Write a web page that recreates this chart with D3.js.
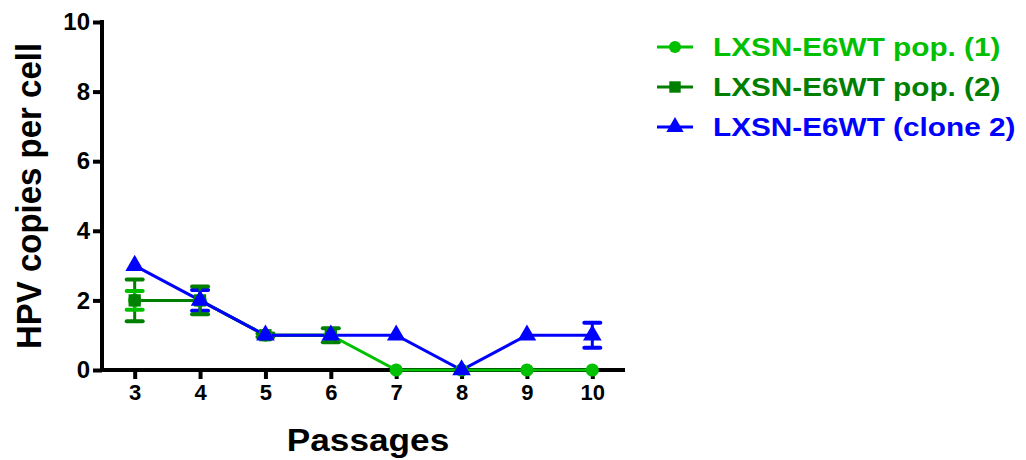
<!DOCTYPE html>
<html>
<head>
<meta charset="utf-8">
<script src="https://cdn.jsdelivr.net/npm/d3@7/dist/d3.min.js"></script>
<style>
  body { margin: 0; background: #fff; }
  text { font-family: "Liberation Sans", Arial, sans-serif; font-weight: bold; }
</style>
</head>
<body>
<script>
// passages on the x axis
var passages = [3, 4, 5, 6, 7, 8, 9, 10];

// mean HPV copies per cell
var pop1 = [2, 2, 1, 1, 0, 0, 0, 0];
var pop1Err = [0.27, 0, 0, 0, 0, 0, 0, 0];
var pop2 = [2, 2, 1, 1, null, null, null, null];
var pop2Err = [0.6, 0.4, 0.05, 0.2, 0, 0, 0, 0];
var clone2 = [3, 2, 1, 1, 1, 0, 1, 1];
var clone2Err = [0, 0.3, 0, 0, 0, 0, 0, 0.36];

var yTicks = [0, 2, 4, 6, 8, 10];
var seriesNames = ["LXSN-E6WT pop. (1)", "LXSN-E6WT pop. (2)", "LXSN-E6WT (clone 2)"];
var seriesColors = ["#00c000", "#007f00", "#0000ff"];
var seriesShapes = [d3.symbolCircle, d3.symbolSquare, d3.symbolTriangle];

var width = 1026, height = 460;

var svg = d3.select("body").append("svg")
    .attr("width", width)
    .attr("height", height);

var x = d3.scaleLinear().domain([2.5, 10.5]).range([102, 625]);
var y = d3.scaleLinear().domain([0, 10]).range([370, 22]);

var series = [
    {vals: pop1, err: pop1Err},
    {vals: pop2, err: pop2Err},
    {vals: clone2, err: clone2Err}
].map(function (s, i) {
    return {
        name: seriesNames[i],
        color: seriesColors[i],
        shape: seriesShapes[i],
        points: passages.map(function (p, j) {
            return {x: p, y: s.vals[j], e: s.err[j]};
        }).filter(function (d) { return d.y !== null; })
    };
});

function symSize(shape) {
    if (shape === d3.symbolTriangle) return 150;
    if (shape === d3.symbolSquare) return 150;
    return 135;
}

// axes
var yAxis = svg.append("g")
    .attr("transform", "translate(" + x.range()[0] + ",0)")
    .call(d3.axisLeft(y).tickValues(yTicks).tickSize(9).tickPadding(3).tickSizeOuter(0));
yAxis.select(".domain").attr("stroke-width", 4).attr("d", "M0," + (y.range()[0] + 2) + "V" + (y.range()[1] - 2));
yAxis.selectAll(".tick line").attr("stroke-width", 4);
yAxis.selectAll(".tick text").style("font-size", "24px").attr("fill", "#000");

var xAxis = svg.append("g")
    .attr("transform", "translate(0," + y.range()[0] + ")")
    .call(d3.axisBottom(x).tickValues(passages).tickSize(9).tickPadding(5).tickSizeOuter(0));
xAxis.select(".domain").attr("stroke-width", 4).attr("d", "M" + (x.range()[0] - 2) + ",0H" + x.range()[1]);
xAxis.selectAll(".tick line").attr("stroke-width", 4);
xAxis.selectAll(".tick text").style("font-size", "22px").attr("fill", "#000");
xAxis.selectAll("path, line").attr("stroke", "#000");
yAxis.selectAll("path, line").attr("stroke", "#000");

// error bars
var capW = 8;
series.slice().reverse().forEach(function (s) {
    var bars = svg.append("g")
        .attr("stroke", s.color)
        .attr("stroke-width", 4)
        .selectAll("g")
        .data(s.points.filter(function (d) { return d.e > 0; }))
        .enter().append("g");
    bars.append("line")
        .attr("stroke-width", 3)
        .attr("x1", function (d) { return x(d.x); })
        .attr("x2", function (d) { return x(d.x); })
        .attr("y1", function (d) { return y(d.y + d.e); })
        .attr("y2", function (d) { return y(d.y - d.e); });
    [1, -1].forEach(function (sgn) {
        bars.append("line")
            .attr("stroke-linecap", "round")
            .attr("x1", function (d) { return x(d.x) - capW; })
            .attr("x2", function (d) { return x(d.x) + capW; })
            .attr("y1", function (d) { return y(d.y + sgn * d.e); })
            .attr("y2", function (d) { return y(d.y + sgn * d.e); });
    });
});

// lines and markers
var line = d3.line()
    .x(function (d) { return x(d.x); })
    .y(function (d) { return y(d.y); });

series.forEach(function (s) {
    svg.append("path")
        .datum(s.points)
        .attr("fill", "none")
        .attr("stroke", s.color)
        .attr("stroke-width", 3)
        .attr("d", line);
});

series.forEach(function (s) {
    svg.append("g").selectAll("path")
        .data(s.points)
        .enter().append("path")
        .attr("transform", function (d) { return "translate(" + x(d.x) + "," + y(d.y) + ")"; })
        .attr("d", d3.symbol().type(s.shape).size(symSize(s.shape)))
        .attr("fill", s.color);
});

// axis titles
svg.append("text")
    .attr("transform", "translate(41,196) rotate(-90) scale(1,1.08)")
    .attr("text-anchor", "middle")
    .style("font-size", "33px")
    .text("HPV copies per cell");

svg.append("text")
    .attr("transform", "translate(368,451) scale(1.1,1)")
    .attr("text-anchor", "middle")
    .style("font-size", "32px")
    .text("Passages");

// legend
var legendY = d3.scalePoint().domain(seriesNames).range([47, 127]);
var legend = svg.append("g").selectAll("g")
    .data(series)
    .enter().append("g")
    .attr("transform", function (d) { return "translate(0," + legendY(d.name) + ")"; });
legend.append("line")
    .attr("x1", 657).attr("x2", 693)
    .attr("stroke", function (d) { return d.color; })
    .attr("stroke-width", 3);
legend.append("path")
    .attr("transform", "translate(675,0)")
    .attr("d", function (d) { return d3.symbol().type(d.shape).size(symSize(d.shape) - 20)(); })
    .attr("fill", function (d) { return d.color; });
legend.append("text")
    .attr("transform", "translate(713,9) scale(1.19,1)")
    .style("font-size", "25px")
    .attr("fill", function (d) { return d.color; })
    .text(function (d) { return d.name; });
</script>
</body>
</html>
